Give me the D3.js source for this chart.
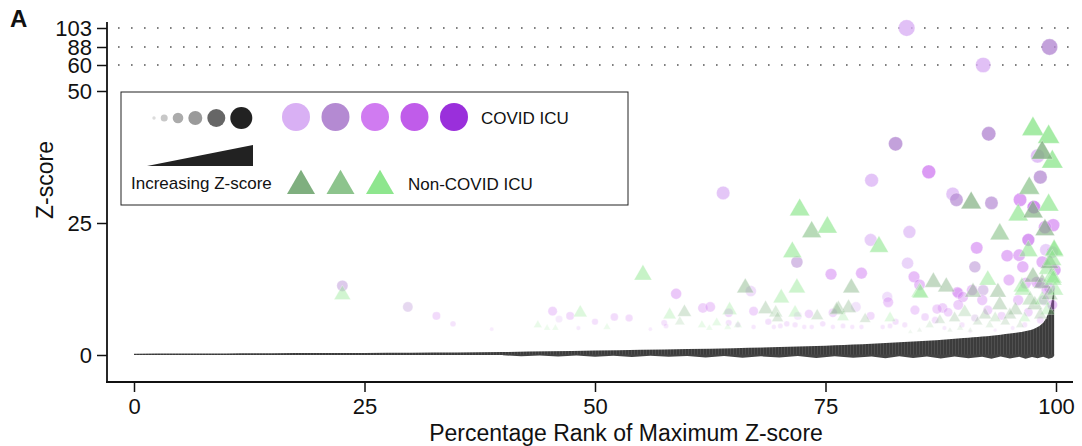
<!DOCTYPE html>
<html>
<head>
<meta charset="utf-8">
<script src="https://cdn.jsdelivr.net/npm/d3@7/dist/d3.min.js"></script>
<style>
  body { margin: 0; background: #fff; }
  text { font-family: "Liberation Sans", Arial, Helvetica, sans-serif; fill: #111; }
</style>
</head>
<body>
<script>
// ---- data ----
// COVID ICU genes: [percentage rank, max z-score, colour group]
const covidPoints = [
  [83.8,103,0],[99.3,88,1],[92.1,60,0],
  [82.6,40.0,1],[92.7,41.9,1],[86.2,34.7,2],[80.0,33.1,0],[88.8,30.5,0],[89.2,29.4,1],[93.0,28.8,1],
  [96.1,29.4,2],[97.6,28.0,3],[98.0,37.7,0],[98.3,33.7,1],[63.9,30.7,0],
  [84.1,23.3,0],[79.9,21.8,0],[91.4,20.3,2],[94.7,18.8,2],[97.0,21.8,3],[99.7,24.6,2],[98.8,24.2,2],
  [96.0,18.9,2],[98.9,19.9,0],[99.6,19.5,2],
  [83.9,17.4,0],[91.2,16.7,1],[96.4,16.7,2],[94.9,14.2,2],[84.6,14.8,2],[85.2,13.3,2],[89.4,11.7,2],
  [90.9,12.3,2],[92.1,12.3,1],[96.7,13.6,2],[98.3,13.6,2],[97.9,13.8,2],[99.3,12.7,3],[89.3,11.9,2],[89.9,11.0,2],
  [71.9,17.6,1],[75.6,15.3,2],[78.9,15.5,2],[81.7,11.0,0],[81.8,10.0,2],[58.8,11.6,2],[66.9,12.1,0],
  [61.7,8.9,2],[62.5,9.1,2],[67.2,8.3,2],[73.2,7.8,2],[75.8,8.0,2],[78.3,9.1,0],[79.9,7.4,2],[82.6,6.3,2],
  [68.8,6.3,2],[72.0,7.4,0],
  [45.4,8.3,2],[47.3,7.4,2],[46.1,6.8,0],[50.0,6.3,2],[52.1,7.2,2],[53.7,7.0,2],[48.2,5.1,2],[56.0,4.9,2],
  [57.5,6.1,2],[57.7,5.5,2],
  [64.5,8.0,2],[64.5,6.1,2],[65.5,5.7,2],[67.2,5.3,2],[69.4,5.3,2],[70.1,5.5,2],[70.8,5.9,2],[71.7,5.7,2],
  [72.7,5.3,2],[73.5,5.3,2],[74.7,5.9,2],[75.8,5.3,2],[76.9,5.5,2],[77.9,5.3,2],[78.9,5.3,2],[81.2,5.3,2],[82.0,5.5,2],
  [22.6,13.1,1],[29.7,9.1,1],[32.8,7.4,2],[34.6,5.9,2],[38.8,4.9,2],
  [87.7,8.9,2],[87.1,8.7,2],
  [86.9,6.6,2],[88.3,8.1,2],[89.8,5.7,2],[91.2,7.0,1],[92.6,8.5,2],[94.1,7.4,2],[95.3,5.1,2],[97.0,8.1,2],
  [98.7,10.4,2],[99.6,9.5,3],[85.8,7.2,2],[83.6,5.7,2],[84.7,8.5,2],[89.4,9.5,2],[92.0,10.4,2],[95.9,10.4,2],
  [98.3,6.6,2],[96.6,5.7,2],[93.4,4.7,2],[90.7,4.4,2],[87.9,5.1,2],[99.0,12.3,2],[99.9,16.1,3],[98.5,17.6,2]
];

// Non-COVID ICU genes: [percentage rank, max z-score, colour group]
const nonCovidPoints = [
  [97.5,42.8,2],[99.2,41.3,2],[99.6,36.6,2],[98.5,38.3,0],[97.1,31.6,1],[95.9,26.5,2],[97.5,27.1,0],
  [99.2,28.4,2],[98.8,23.7,0],[99.8,19.7,2],
  [90.8,28.8,0],[93.9,22.9,1],[72.2,27.5,2],[73.5,23.3,1],[75.2,24.2,2],[80.8,20.5,2],[71.4,19.5,2],
  [77.8,12.7,0],[55.2,15.2,2],[66.3,12.7,0],[71.9,12.7,2],[70.2,10.8,2],
  [58.1,7.6,2],[59.7,8.1,0],[59.2,6.3,1],[61.6,5.7,2],[63.2,6.1,2],[62.4,5.1,2],[64.6,8.5,2],[68.5,8.7,0],
  [69.6,8.0,1],[71.7,8.0,2],[74.1,7.4,0],[76.4,8.7,0],[77.5,8.9,0],[76.9,7.2,2],[79.3,6.8,0],[82.0,7.0,2],
  [69.8,7.0,0],[65.5,5.7,2],[64.4,5.3,2],
  [48.4,8.0,2],[45.7,5.1,2],[51.3,5.3,2],[43.8,5.7,2],[44.8,5.1,2],
  [22.6,11.4,2],
  [86.7,13.8,0],[88.1,12.9,0],[85.2,11.9,2],[92.6,14.2,2],[91.0,11.9,0],[76.2,8.5,0],[96.3,12.9,2],
  [93.7,11.9,0],[97.5,14.8,0],[98.5,13.6,0],[99.1,16.3,2],[99.5,14.8,2],[99.7,14.6,2],[99.3,17.4,0],
  [97.0,19.7,2],[99.8,19.9,2],[96.4,12.3,2],[85.3,11.7,2],
  [87.4,6.6,0],[89.0,7.0,0],[90.1,8.1,1],[91.5,6.3,0],[92.3,7.6,0],[93.4,7.0,1],[94.5,6.3,0],[95.6,8.5,0],
  [96.6,7.0,2],[97.7,9.5,0],[98.5,10.4,2],[99.3,11.4,0],[99.9,12.3,2],[99.1,8.5,2],[98.3,7.6,0],[97.2,10.4,1],
  [96.1,5.7,0],[95.0,7.6,0],[93.9,9.5,0],[92.8,5.7,1],[90.7,4.7,0],[89.6,5.1,1],[88.5,4.7,0],[86.3,5.7,1],
  [85.2,4.7,0],[84.2,4.4,1],[99.7,14.2,2],[99.6,18.0,2]
];

// background: ranked max z-score of all genes (upper edge)
const bandRank = [0,5,10,15,20,25,30,35,40,45,50,55,60,65,70,72,74,76,78,80,82,84,86,88,90,91,92,93,94,95,
  96,96.5,97,97.5,98,98.4,98.8,99.1,99.3,99.5,99.7,99.8];
const bandHigh = [0.25,0.28,0.3,0.33,0.36,0.4,0.43,0.47,0.55,0.7,0.85,1.0,1.15,1.3,1.5,1.6,1.7,1.85,2.0,2.15,
  2.3,2.5,2.7,2.95,3.2,3.35,3.5,3.65,3.85,4.05,4.3,4.45,4.65,4.9,5.3,5.8,6.6,7.6,8.6,10.0,11.8,12.8];
// ragged lower fringe of the same background
const fringeRank = [40,42,44,46,48,50,52,54,56,58,60,62,64,66,68,70,72,74,76,78,80,81.5,83,84.5,86,87.5,
  89,90.5,92,93,94,95,96,96.7,97.4,98,98.6,99.2,99.6,99.8];
const fringeLow = [-0.05,-0.25,-0.1,-0.3,-0.1,-0.35,-0.15,-0.4,-0.15,-0.35,-0.2,-0.45,-0.2,-0.5,-0.25,-0.45,
  -0.2,-0.55,-0.25,-0.5,-0.3,-0.6,-0.25,-0.55,-0.3,-0.65,-0.3,-0.6,-0.35,-0.7,-0.3,-0.65,-0.35,-0.7,-0.4,-0.6,
  -0.35,-0.7,-0.5,-0.2];

const xTicks = [0, 25, 50, 75, 100];
const yTicks = [0, 25, 50, 60, 88, 103];
const brokenTicks = [60, 88, 103];

const covidColors = ["#d9b0f4", "#b48ad2", "#d07bf1", "#c05cea", "#9a2fdb"];
const nonCovidColors = ["#7faf7f", "#8dc48d", "#8ee68e"];
const sizeKeyRadius = [1.7, 3.5, 5.3, 7, 9, 11];
const sizeKeyGrey = ["#dcdcdc", "#c8c8c8", "#ababab", "#9a9a9a", "#666666", "#222222"];

// ---- svg ----
const width = 1082, height = 446;
const svg = d3.select("body").append("svg")
  .attr("width", width)
  .attr("height", height);

const x = d3.scaleLinear().domain([0, 100]).range([134, 1056]);
// broken axis: linear up to 50, then squeezed for the outliers
const y = d3.scaleLinear().domain([0, 50, 60, 88, 103]).range([355, 91, 65, 47, 28]);

// marker size + opacity grow with z
const rScale = d3.scaleLog().domain([4.5, 9, 100]).range([1.6, 5.1, 8.3]).clamp(true);
const opScale = d3.scaleLog().domain([4.5, 40]).range([0.12, 0.8]).clamp(true);

// hairy texture for the background band
const defs = svg.append("defs");
const pat = defs.append("pattern")
  .attr("id", "hair")
  .attr("patternUnits", "userSpaceOnUse")
  .attr("width", 3).attr("height", 6);
pat.append("rect").attr("width", 3).attr("height", 6).attr("fill", "#3c3c3c");
pat.append("line").attr("x1", 1.5).attr("x2", 1.5).attr("y1", 0).attr("y2", 6)
  .attr("stroke", "#5e5e5e").attr("stroke-width", 0.6);

// dotted guide lines for the outliers
svg.selectAll(".guide")
  .data(brokenTicks)
  .enter().append("line")
  .attr("x1", 118).attr("x2", 1076)
  .attr("y1", d => y(d)).attr("y2", d => y(d))
  .attr("stroke", "#555")
  .attr("stroke-width", 1.6)
  .attr("stroke-dasharray", "1.6,11.4");

// gray band
const band = bandRank.map((r, i) => ({ r: r, hi: bandHigh[i] }));
svg.append("path")
  .datum(band)
  .attr("fill", "url(#hair)")
  .attr("d", d3.area()
    .x(d => x(d.r))
    .y0(y(0))
    .y1(d => y(d.hi))
    .curve(d3.curveMonotoneX));

const fringe = fringeRank.map((r, i) => ({ r: r, lo: fringeLow[i] }));
svg.append("path")
  .datum(fringe)
  .attr("fill", "#444")
  .attr("d", d3.area()
    .x(d => x(d.r))
    .y0(d => y(d.lo))
    .y1(y(0) - 0.5));

// covid circles
svg.append("g").selectAll("circle")
  .data(covidPoints)
  .enter().append("circle")
  .attr("cx", d => x(d[0]))
  .attr("cy", d => y(d[1]))
  .attr("r", d => rScale(d[1]))
  .attr("fill", d => covidColors[d[2]])
  .attr("fill-opacity", d => opScale(d[1]))
  .attr("stroke", "#fff")
  .attr("stroke-width", 0.5)
  .attr("stroke-opacity", 0.6);

// non-covid triangles
const tri = d3.symbol().type(d3.symbolTriangle);
svg.append("g").selectAll("path")
  .data(nonCovidPoints)
  .enter().append("path")
  .attr("transform", d => `translate(${x(d[0])},${y(d[1])})`)
  .attr("d", d => tri.size(Math.PI * Math.pow(rScale(d[1]), 2) * 1.3)())
  .attr("fill", d => nonCovidColors[d[2]])
  .attr("fill-opacity", d => opScale(d[1]))
  .attr("stroke", "#fff")
  .attr("stroke-width", 0.5)
  .attr("stroke-opacity", 0.6);

// axes
const yAxis = svg.append("g")
  .attr("transform", "translate(107,0)")
  .call(d3.axisLeft(y).tickValues(yTicks).tickSize(10).tickPadding(5));
const xAxis = svg.append("g")
  .attr("transform", "translate(0,382)")
  .call(d3.axisBottom(x).tickValues(xTicks).tickSize(10).tickPadding(6));

[yAxis, xAxis].forEach(g => {
  g.select(".domain").remove();
  g.selectAll(".tick line").attr("stroke", "#111").attr("stroke-width", 1.5);
  g.selectAll(".tick text")
    .style("font-family", "'Liberation Sans', Arial, sans-serif")
    .style("font-size", "22px")
    .attr("fill", "#111");
});

svg.append("line").attr("x1", 107).attr("x2", 107).attr("y1", 22).attr("y2", 383)
  .attr("stroke", "#111").attr("stroke-width", 1.8);
svg.append("line").attr("x1", 106).attr("x2", 1073).attr("y1", 382).attr("y2", 382)
  .attr("stroke", "#111").attr("stroke-width", 1.8);

// titles
svg.append("text")
  .attr("x", 626).attr("y", 441)
  .attr("text-anchor", "middle")
  .style("font-size", "23px")
  .text("Percentage Rank of Maximum Z-score");

svg.append("text")
  .attr("transform", "translate(53,180) rotate(-90)")
  .attr("text-anchor", "middle")
  .style("font-size", "23px")
  .text("Z-score");

svg.append("text")
  .attr("x", 10).attr("y", 27)
  .style("font-size", "24px")
  .style("font-weight", "bold")
  .text("A");

// legend
const key = svg.append("g");
key.append("rect")
  .attr("x", 121).attr("y", 92)
  .attr("width", 507).attr("height", 113)
  .attr("fill", "#fff")
  .attr("stroke", "#222")
  .attr("stroke-width", 1);

// size key dots
let cx = 154;
sizeKeyRadius.forEach((r, i) => {
  if (i > 0) cx += sizeKeyRadius[i - 1] + 5 + r;
  key.append("circle")
    .attr("cx", cx).attr("cy", 118).attr("r", r)
    .attr("fill", sizeKeyGrey[i]);
});

key.append("path")
  .attr("d", "M147,166 L253,166 L253,145 Z")
  .attr("fill", "#222");

key.append("text")
  .attr("x", 131).attr("y", 189)
  .style("font-size", "17px")
  .text("Increasing Z-score");

key.selectAll(".kc")
  .data(covidColors)
  .enter().append("circle")
  .attr("cx", (d, i) => 296 + i * 39.5)
  .attr("cy", 117)
  .attr("r", 14)
  .attr("fill", d => d);

key.append("text")
  .attr("x", 481).attr("y", 124)
  .style("font-size", "17px")
  .text("COVID ICU");

const keyTri = d3.symbol().type(d3.symbolTriangle).size(339);
key.selectAll(".kt")
  .data(nonCovidColors)
  .enter().append("path")
  .attr("transform", (d, i) => `translate(${301 + i * 39.5},186)`)
  .attr("d", keyTri)
  .attr("fill", d => d);

key.append("text")
  .attr("x", 408).attr("y", 190)
  .style("font-size", "17px")
  .text("Non-COVID ICU");
</script>
</body>
</html>
